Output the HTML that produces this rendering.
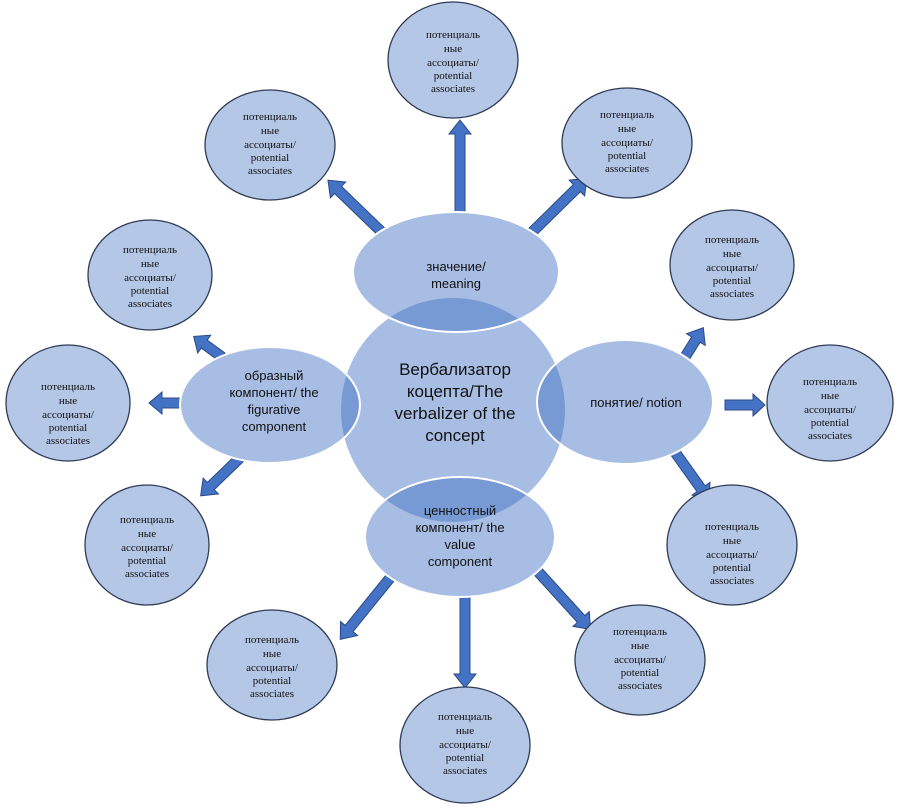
<!DOCTYPE html>
<html><head><meta charset="utf-8"><style>html,body{margin:0;padding:0;background:#fff}svg{display:block}</style></head>
<body>
<svg width="918" height="810" viewBox="0 0 918 810" xmlns="http://www.w3.org/2000/svg">
<g fill="#4472c4" stroke="#2b4a86" stroke-width="1">
<g transform="translate(460,225) rotate(-90)"><polygon points="0,-5 91,-5 91,-11 105,0 91,11 91,5 0,5"/></g>
<g transform="translate(392,242) rotate(224)"><polygon points="0,-5 75,-5 75,-11 89,0 75,11 75,5 0,5"/></g>
<g transform="translate(522,242) rotate(-44.5)"><polygon points="0,-5 77,-5 77,-11 91,0 77,11 77,5 0,5"/></g>
<g transform="translate(222,357) rotate(216)"><polygon points="0,-5 22,-5 22,-11 35,0 22,11 22,5 0,5"/></g>
<g transform="translate(190,403) rotate(180)"><polygon points="0,-5 28,-5 28,-11 41,0 28,11 28,5 0,5"/></g>
<g transform="translate(246,452) rotate(136)"><polygon points="0,-5 49,-5 49,-11 63,0 49,11 49,5 0,5"/></g>
<g transform="translate(390,578) rotate(129)"><polygon points="0,-5 65,-5 65,-11 79,0 65,11 65,5 0,5"/></g>
<g transform="translate(465,585) rotate(90)"><polygon points="0,-5 89,-5 89,-11 103,0 89,11 89,5 0,5"/></g>
<g transform="translate(532,565) rotate(47.7)"><polygon points="0,-5 73,-5 73,-11 87,0 73,11 73,5 0,5"/></g>
<g transform="translate(680,365) rotate(-58)"><polygon points="0,-5 30,-5 30,-11 44,0 30,11 30,5 0,5"/></g>
<g transform="translate(725,405)"><polygon points="0,-5 28,-5 28,-11 40,0 28,11 28,5 0,5"/></g>
<g transform="translate(672,448) rotate(54.5)"><polygon points="0,-5 50,-5 50,-11 64,0 50,11 50,5 0,5"/></g>
</g>
<g fill="#b4c7e7" stroke="#2f3b55" stroke-width="1.3">
<ellipse cx="453" cy="60" rx="65" ry="58"/>
<ellipse cx="270" cy="145" rx="65" ry="55"/>
<ellipse cx="627" cy="143" rx="65" ry="55"/>
<ellipse cx="150" cy="275" rx="62" ry="55"/>
<ellipse cx="68" cy="403" rx="62" ry="58"/>
<ellipse cx="147" cy="545" rx="62" ry="60"/>
<ellipse cx="272" cy="665" rx="65" ry="55"/>
<ellipse cx="465" cy="745" rx="65" ry="58"/>
<ellipse cx="640" cy="660" rx="65" ry="55"/>
<ellipse cx="732" cy="265" rx="62" ry="55"/>
<ellipse cx="830" cy="403" rx="63" ry="58"/>
<ellipse cx="732" cy="545" rx="65" ry="60"/>
</g>
<g fill="#fff" stroke="none">
<circle cx="453" cy="410" r="113"/>
<ellipse cx="456" cy="272" rx="103" ry="60"/>
<ellipse cx="270" cy="405" rx="90" ry="58"/>
<ellipse cx="625" cy="402" rx="88" ry="62"/>
<ellipse cx="460" cy="537" rx="95" ry="60"/>
</g>
<g fill="rgba(68,114,196,0.47)" stroke="#fff" stroke-width="2">
<circle cx="453" cy="410" r="113"/>
<ellipse cx="456" cy="272" rx="103" ry="60"/>
<ellipse cx="270" cy="405" rx="90" ry="58"/>
<ellipse cx="625" cy="402" rx="88" ry="62"/>
<ellipse cx="460" cy="537" rx="95" ry="60"/>
</g>
<g font-family="Liberation Sans, DejaVu Sans, sans-serif" fill="#111" text-anchor="middle">
<text font-size="17" x="455" y="375">Вербализатор</text>
<text font-size="17" x="455" y="397">коцепта/The</text>
<text font-size="17" x="455" y="419">verbalizer of the</text>
<text font-size="17" x="455" y="441">concept</text>
<text font-size="13" x="456" y="271">значение/</text>
<text font-size="13" x="456" y="288">meaning</text>
<text font-size="13" x="274" y="380">образный</text>
<text font-size="13" x="274" y="397">компонент/ the</text>
<text font-size="13" x="274" y="414">figurative</text>
<text font-size="13" x="274" y="431">component</text>
<text font-size="13" x="636" y="407">понятие/ notion</text>
<text font-size="13" x="460" y="515">ценностный</text>
<text font-size="13" x="460" y="532">компонент/ the</text>
<text font-size="13" x="460" y="549">value</text>
<text font-size="13" x="460" y="566">component</text>
</g>
<g font-family="Liberation Serif, DejaVu Serif, serif" font-size="11" fill="#111" text-anchor="middle">
<g transform="translate(453,38)"><text y="0">потенциаль</text><text y="14">ные</text><text y="28">ассоциаты/</text><text y="41">potential</text><text y="54">associates</text></g>
<g transform="translate(270,120)"><text y="0">потенциаль</text><text y="14">ные</text><text y="28">ассоциаты/</text><text y="41">potential</text><text y="54">associates</text></g>
<g transform="translate(627,118)"><text y="0">потенциаль</text><text y="14">ные</text><text y="28">ассоциаты/</text><text y="41">potential</text><text y="54">associates</text></g>
<g transform="translate(150,253)"><text y="0">потенциаль</text><text y="14">ные</text><text y="28">ассоциаты/</text><text y="41">potential</text><text y="54">associates</text></g>
<g transform="translate(68,390)"><text y="0">потенциаль</text><text y="14">ные</text><text y="28">ассоциаты/</text><text y="41">potential</text><text y="54">associates</text></g>
<g transform="translate(147,523)"><text y="0">потенциаль</text><text y="14">ные</text><text y="28">ассоциаты/</text><text y="41">potential</text><text y="54">associates</text></g>
<g transform="translate(272,643)"><text y="0">потенциаль</text><text y="14">ные</text><text y="28">ассоциаты/</text><text y="41">potential</text><text y="54">associates</text></g>
<g transform="translate(465,720)"><text y="0">потенциаль</text><text y="14">ные</text><text y="28">ассоциаты/</text><text y="41">potential</text><text y="54">associates</text></g>
<g transform="translate(640,635)"><text y="0">потенциаль</text><text y="14">ные</text><text y="28">ассоциаты/</text><text y="41">potential</text><text y="54">associates</text></g>
<g transform="translate(732,243)"><text y="0">потенциаль</text><text y="14">ные</text><text y="28">ассоциаты/</text><text y="41">potential</text><text y="54">associates</text></g>
<g transform="translate(830,385)"><text y="0">потенциаль</text><text y="14">ные</text><text y="28">ассоциаты/</text><text y="41">potential</text><text y="54">associates</text></g>
<g transform="translate(732,530)"><text y="0">потенциаль</text><text y="14">ные</text><text y="28">ассоциаты/</text><text y="41">potential</text><text y="54">associates</text></g>
</g>
</svg>
</body></html>
